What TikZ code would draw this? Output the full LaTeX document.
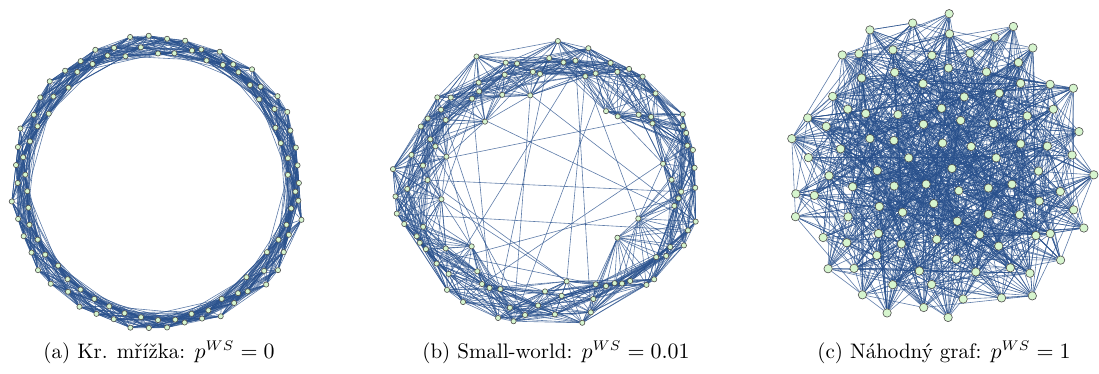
\documentclass[tikz,border=0pt]{standalone}
\usepackage{amsmath}
\definecolor{edgeblue}{RGB}{40,80,140}
\definecolor{nodegreen}{RGB}{214,245,206}
\pgfdeclarelayer{bg}
\pgfsetlayers{bg,main}
\begin{document}
\begin{tikzpicture}[x=0.5pt, y=-0.5pt,
  vertex/.style={circle, draw=black!70, fill=nodegreen, line width=0.3pt, inner sep=0pt, minimum size=2.6pt},
  bigvertex/.style={vertex, minimum size=4.2pt},
  link/.style={draw=edgeblue, line width=0.3pt, opacity=0.75},
  caption/.style={font=\fontsize{10.5}{12}\selectfont}]
\useasboundingbox (0,0) rectangle (1099,374);
\pgfmathsetseed{4711}
% (a) ring lattice
\foreach \i in {0,...,99} {
  \pgfmathsetmacro\rad{isodd(\i) ? 129+9*rnd : 140+9*rnd}
  \pgfmathsetmacro\px{158+\rad*cos(\i*3.6)}
  \pgfmathsetmacro\py{183+\rad*sin(\i*3.6)}
  \node[vertex] (a\i) at (\px,\py) {};
}
\begin{pgfonlayer}{bg}
\foreach \i in {0,...,99}
  \foreach \j in {1,...,10} {
    \pgfmathtruncatemacro\k{mod(\i+\j,100)}
    \path[link] (a\i) -- (a\k);
  }
\end{pgfonlayer}
% (b) small world
\foreach \i in {0,...,99} {
  \pgfmathsetmacro\fac{rnd<0.15 ? 0.56+0.14*rnd : 0.74+0.26*rnd}
  \pgfmathsetmacro\ang{\i*3.6+2*rnd}
  \pgfmathsetmacro\px{547+158*\fac*cos(\ang)}
  \pgfmathsetmacro\py{183+146*\fac*sin(\ang)}
  \node[vertex] (b\i) at (\px,\py) {};
}
\begin{pgfonlayer}{bg}
\foreach \i in {0,...,99}
  \foreach \j in {1,...,10} {
    \pgfmathtruncatemacro\flip{rnd<0.03}
    \ifnum\flip=1
      \pgfmathtruncatemacro\k{random(0,99)}
    \else
      \pgfmathtruncatemacro\k{mod(\i+\j,100)}
    \fi
    \path[link] (b\i) -- (b\k);
  }
\end{pgfonlayer}
% (c) random graph
\foreach \i in {0,...,99} {
  \pgfmathsetmacro\rad{160*sqrt((\i+0.5)/100)}
  \pgfmathsetmacro\ang{\i*137.508+8*rnd}
  \pgfmathsetmacro\px{942+\rad*cos(\ang)+8*rnd-4}
  \pgfmathsetmacro\py{168+\rad*sin(\ang)+8*rnd-4}
  \node[bigvertex] (c\i) at (\px,\py) {};
}
\begin{pgfonlayer}{bg}
\foreach \i in {0,...,99}
  \foreach \j in {1,...,10} {
    \pgfmathtruncatemacro\k{random(0,99)}
    \path[link] (c\i) -- (c\k);
  }
\end{pgfonlayer}
\node[caption] (capa) at (159,352) {(a) Kr. mřížka: $p^{WS}=0$};
\node[caption] (capb) at (556,352) {(b) Small-world: $p^{WS}=0.01$};
\node[caption] (capc) at (944,352) {(c) Náhodný graf: $p^{WS}=1$};
\end{tikzpicture}
\end{document}
